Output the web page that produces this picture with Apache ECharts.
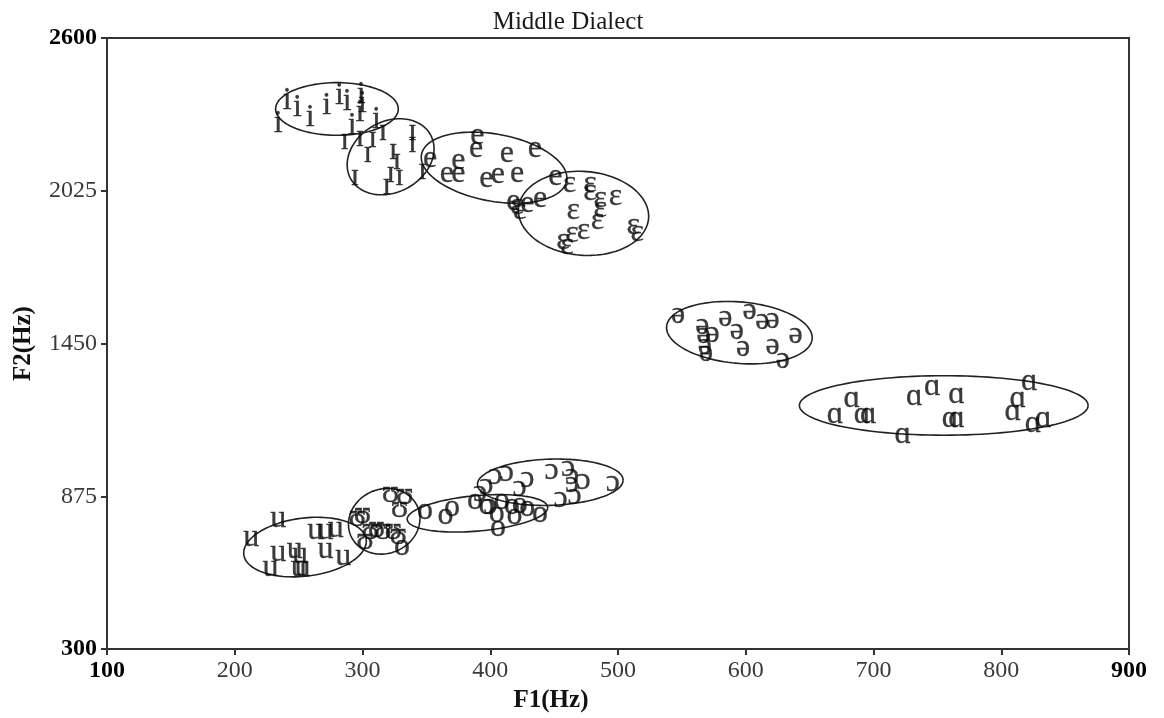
<!DOCTYPE html>
<html>
<head>
<meta charset="utf-8">
<title>Middle Dialect</title>
<script src="https://cdn.jsdelivr.net/npm/echarts@6/dist/echarts.min.js"></script>
<style>
  html, body { margin: 0; padding: 0; background: #fff; }
  #chart { width: 1164px; height: 718px; }
</style>
</head>
<body>
<div id="chart"></div>
<script>
// Axis ticks
const xTicks = [100, 200, 300, 400, 500, 600, 700, 800, 900];
const yTicks = [300, 875, 1450, 2025, 2600];

// Vowel tokens, each [F1 (Hz), F2 (Hz)]
const vowel_i = [[241,2365],[249,2339],[259,2302],[234,2276],[272,2347],[282,2384],[288,2361],[299,2388],[300,2354],[298,2320],[292,2272],[311,2294]];
const vowel_I = [[286,2212],[298,2227],[304,2164],[308,2220],[316,2246],[324,2175],[327,2138],[322,2089],[329,2078],[319,2045],[294,2078],[339,2246],[339,2201],[347,2100]];
const vowel_e = [[353,2145],[366,2089],[375,2089],[375,2138],[390,2231],[389,2182],[413,2164],[435,2182],[397,2071],[406,2086],[421,2089],[451,2078],[418,1985],[439,1996],[429,1977]];
const vowel_E = [[421,1970],[423,1951],[462,2052],[478,2052],[478,2022],[486,1996],[498,2004],[465,1951],[486,1959],[484,1914],[473,1877],[464,1862],[457,1836],[460,1817],[512,1895],[515,1869]];
const vowel_schwa = [[547,1560],[566,1519],[574,1489],[567,1482],[568,1444],[569,1415],[584,1549],[593,1497],[598,1433],[603,1575],[613,1538],[621,1541],[639,1485],[621,1441],[629,1388]];
const vowel_a = [[670,1184],[683,1243],[691,1184],[696,1184],[732,1251],[746,1288],[765,1258],[760,1169],[765,1169],[723,1109],[822,1306],[813,1243],[809,1195],[825,1150],[833,1169]];
const vowel_u = [[234,792],[213,718],[263,747],[271,747],[279,755],[234,665],[247,673],[251,654],[271,673],[285,647],[228,606],[250,606],[253,606]];
const vowel_U = [[296,796],[300,807],[322,885],[333,878],[306,747],[311,755],[316,747],[324,747],[328,729],[329,829],[302,710]];
const vowel_o = [[349,822],[365,803],[370,833],[388,859],[397,841],[405,811],[409,859],[417,841],[423,844],[419,803],[439,811],[406,759],[429,833],[331,684]];
const vowel_O = [[404,952],[413,964],[429,941],[397,915],[423,908],[392,889],[448,971],[461,982],[464,952],[464,923],[473,934],[496,926],[455,867],[466,878],[400,841]];

// Vowel spread ellipses: [centre F1, centre F2, F1 half-width, F2 shift at widest point, F2 half-height at centre]
const ellipses = [
  [280, 2333, 48, 0, 99],    // i
  [322, 2153, 34, 30, 140],  // ɪ
  [403, 2112, 57, -39, 128], // e
  [473, 1940, 51, -11, 158], // ɛ
  [595, 1491, 57, -19, 116], // ə
  [755, 1217, 113, 0, 112],  // ɑ
  [255, 684, 48, 22, 110],   // u
  [317, 781, 28, 11, 123],   // ʊ
  [390, 811, 55, 22, 67],    // o
  [447, 928, 57, 8, 87]      // ɔ
];

const vowels = [
  ['i', vowel_i], ['ɪ', vowel_I], ['e', vowel_e], ['ɛ', vowel_E], ['ə', vowel_schwa],
  ['ɑ', vowel_a], ['u', vowel_u], ['ʊ', vowel_U], ['o', vowel_o], ['ɔ', vowel_O]
];

const SERIF = "'Liberation Serif', 'DejaVu Serif', serif";
const xEnds = [xTicks[0], xTicks[xTicks.length - 1]];
const yEnds = [yTicks[0], yTicks[yTicks.length - 1]];

const tokenSeries = vowels.map(([sym, pts]) => ({
  name: sym,
  type: 'scatter',
  data: pts,
  symbolSize: 1,
  itemStyle: { color: 'rgba(0,0,0,0)' },
  label: {
    show: true,
    position: 'inside',
    formatter: sym,
    fontFamily: SERIF,
    fontSize: 32,
    color: '#0a0a0a',
    textBorderColor: '#0a0a0a',
    textBorderWidth: 0.3
  },
  emphasis: { disabled: true },
  silent: true,
  z: 3
}));

const ellipseSeries = {
  type: 'custom',
  data: ellipses,
  silent: true,
  z: 2,
  renderItem(params, api) {
    const cx = api.value(0), cy = api.value(1);
    const w = api.value(2), d = api.value(3), h = api.value(4);
    const pts = [];
    const n = 120;
    for (let k = 0; k <= n; k++) {
      const t = (k / n) * Math.PI * 2;
      pts.push(api.coord([cx + w * Math.cos(t), cy + d * Math.cos(t) + h * Math.sin(t)]));
    }
    return {
      type: 'polyline',
      shape: { points: pts },
      style: { fill: 'none', stroke: '#222', lineWidth: 1.6 }
    };
  }
};

const chart = echarts.init(document.getElementById('chart'), null, { renderer: 'canvas' });
chart.setOption({
  animation: false,
  backgroundColor: '#fff',
  title: {
    text: 'Middle Dialect',
    left: 563,
    top: 5,
    textAlign: 'center',
    textStyle: { fontFamily: SERIF, fontSize: 25, fontWeight: 'normal', color: '#1a1a1a' }
  },
  grid: {
    left: 107, right: 35, top: 38, bottom: 63,
    show: true, borderColor: '#333', borderWidth: 2, backgroundColor: 'transparent'
  },
  xAxis: {
    type: 'value',
    min: 100, max: 900, interval: 100,
    name: 'F1(Hz)',
    nameLocation: 'middle',
    nameGap: 33,
    nameTextStyle: { fontFamily: SERIF, fontSize: 25, fontWeight: 'bold', color: '#111', padding: [0, 134, 0, 0] },
    axisLine: { show: true, lineStyle: { color: '#333', width: 2 } },
    axisTick: { show: true, length: 6, lineStyle: { color: '#333', width: 2 } },
    splitLine: { show: false },
    axisLabel: {
      margin: 10,
      formatter: v => (xEnds.includes(v) ? '{b|' + v + '}' : '{n|' + v + '}'),
      rich: {
        b: { fontFamily: SERIF, fontSize: 24, fontWeight: 'bold', color: '#000' },
        n: { fontFamily: SERIF, fontSize: 24, color: '#3a3a3a' }
      }
    }
  },
  yAxis: {
    type: 'value',
    min: 300, max: 2600,
    name: 'F2(Hz)',
    nameLocation: 'middle',
    nameRotate: 90,
    nameGap: 71,
    nameTextStyle: { fontFamily: SERIF, fontSize: 25, fontWeight: 'bold', color: '#111' },
    axisLine: { show: true, lineStyle: { color: '#333', width: 2 } },
    axisTick: { show: true, length: 6, customValues: yTicks, lineStyle: { color: '#333', width: 2 } },
    splitLine: { show: false },
    axisLabel: {
      margin: 10,
      customValues: yTicks,
      formatter: v => (yEnds.includes(v) ? '{b|' + v + '}' : '{n|' + v + '}'),
      rich: {
        b: { fontFamily: SERIF, fontSize: 24, fontWeight: 'bold', color: '#000' },
        n: { fontFamily: SERIF, fontSize: 24, color: '#3a3a3a' }
      }
    }
  },
  series: [ellipseSeries].concat(tokenSeries)
});
</script>
</body>
</html>
